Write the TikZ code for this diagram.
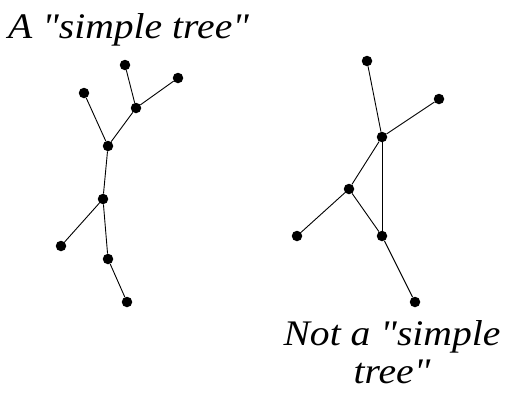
\documentclass[tikz,border=0pt]{standalone}
\usepackage{fontspec}
\newfontfamily\capfont{Liberation Serif Italic}[FakeStretch=1.1]
\usetikzlibrary{positioning}
\tikzset{
  dot/.style={circle,fill=black,inner sep=0pt,minimum size=10.5pt},
  link/.style={draw=black,line width=.9pt},
  caption/.style={font=\capfont\fontsize{36}{38}\selectfont,inner sep=0pt},
}

\begin{document}
\begin{tikzpicture}[x=1pt,y=-1pt]
  \useasboundingbox (0,0) rectangle (512,400);

  % ---------------- simple tree ----------------
  \node[caption,anchor=base west] (ttitle) at (8,38) {A "simple tree"};
  \foreach \name/\x/\y in {t1/125/65, t2/178/78, t3/84/93, t4/136/108, t5/108/146,
                           t6/103/199, t7/61/246, t8/108/259, t9/127/302}
    \node[dot] (\name) at (\x,\y) {};
  \foreach \a/\b in {t1/t4, t2/t4, t3/t5, t4/t5, t5/t6, t6/t7, t6/t8, t8/t9}
    \draw[link] (\a) -- (\b);

  % ---------------- not a simple tree ----------------
  \foreach \name/\x/\y in {n1/367/61, n2/439/99, n3/382/137, n4/349/189,
                           n5/297/236, n6/382/236, n7/415/302}
    \node[dot] (\name) at (\x,\y) {};
  \foreach \a/\b in {n1/n3, n2/n3, n3/n4, n3/n6, n4/n6, n4/n5, n6/n7}
    \draw[link] (\a) -- (\b);
  \node[caption,anchor=base,align=center] (ntitle) at (392,383) {Not a "simple\\tree"};
\end{tikzpicture}
\end{document}
